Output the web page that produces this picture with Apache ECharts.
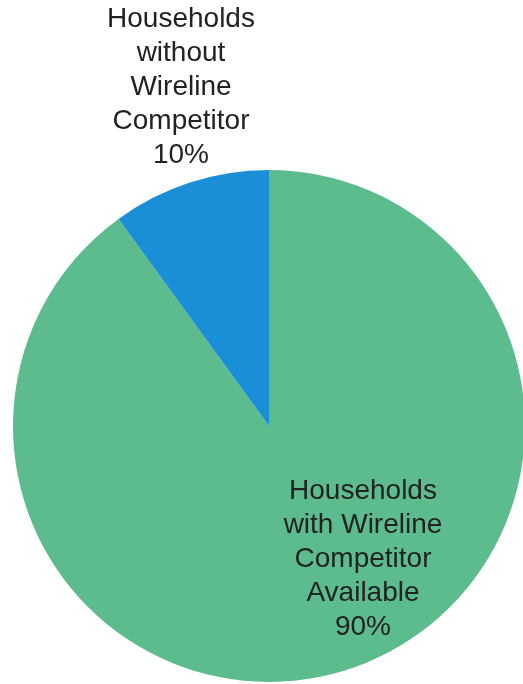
<!DOCTYPE html>
<html>
<head>
<meta charset="utf-8">
<script src="https://cdn.jsdelivr.net/npm/echarts@6/dist/echarts.min.js"></script>
<style>
  html, body { margin: 0; padding: 0; background: #ffffff; }
  #chart { width: 523px; height: 684px; }
</style>
</head>
<body>
<div id="chart"></div>
<script>
// Share of households by availability of a wireline competitor
const categories = [
  'Households\nwith Wireline\nCompetitor\nAvailable',
  'Households\nwithout\nWireline\nCompetitor'
];
const shares = [90, 10];
const sliceColors = ['#5cbc8d', '#1a8fd8'];

// Where each slice's label block is centred (pixels)
const labelSpots = [
  { x: 363, y: 559 },
  { x: 181, y: 87 }
];

const chart = echarts.init(document.getElementById('chart'), null, { renderer: 'canvas' });

chart.setOption({
  animation: false,
  backgroundColor: '#ffffff',
  series: [{
    type: 'pie',
    center: [269, 426],
    radius: 256,
    startAngle: 90,
    clockwise: true,
    silent: true,
    itemStyle: { borderWidth: 0 },
    label: {
      show: true,
      position: 'inside',
      formatter: '{b}\n{d}%',
      fontFamily: '"Liberation Sans", Arial, sans-serif',
      fontSize: 28,
      lineHeight: 34,
      color: '#222222',
      align: 'center'
    },
    labelLine: { show: false },
    labelLayout: function (p) {
      const s = labelSpots[p.dataIndex];
      return { x: s.x, y: s.y, align: 'center', verticalAlign: 'middle' };
    },
    data: categories.map((name, i) => ({
      name: name,
      value: shares[i],
      itemStyle: { color: sliceColors[i] }
    }))
  }]
});
</script>
</body>
</html>
